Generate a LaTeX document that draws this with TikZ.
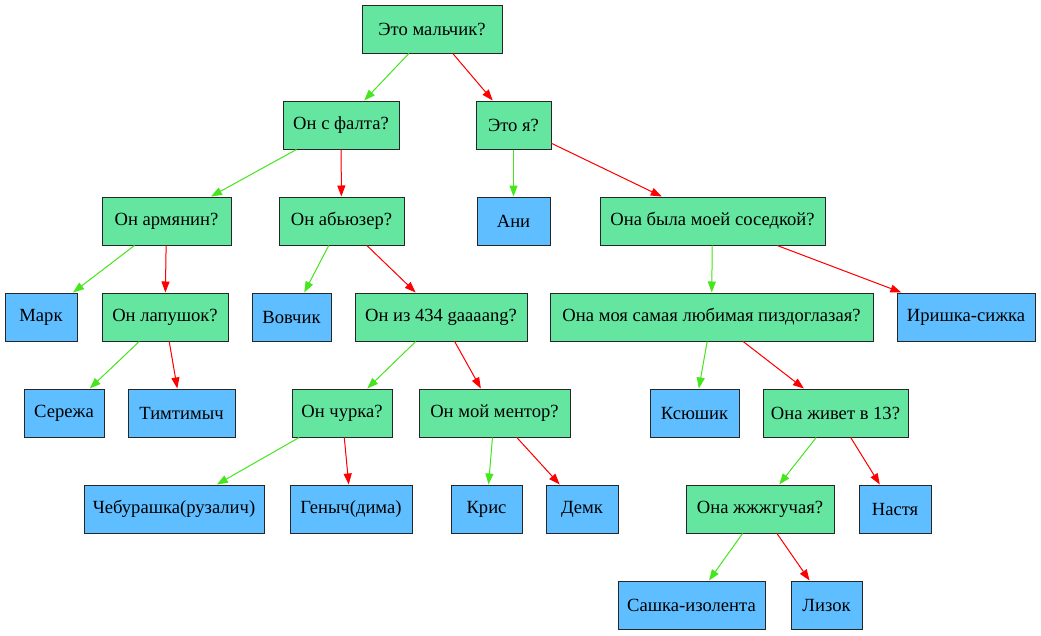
\documentclass[tikz,border=0pt]{standalone}
\usepackage{fontspec}
\setmainfont{Liberation Serif}
\usetikzlibrary{arrows.meta}
\definecolor{qfill}{RGB}{101,230,160}
\definecolor{afill}{RGB}{94,190,255}
\definecolor{yesedge}{RGB}{70,230,30}
\definecolor{noedge}{RGB}{255,0,0}
\tikzset{
  box/.style={draw=black!85, line width=1pt, rectangle, inner sep=0pt,
    minimum height=48pt, font=\fontsize{18.6}{20}\selectfont},
  q/.style={box, fill=qfill},
  ans/.style={box, fill=afill},
  edge/.style={line width=1pt, -{Triangle[length=11pt,width=8pt]}},
  yes/.style={edge, draw=yesedge, fill=yesedge},
  no/.style={edge, draw=noedge, fill=noedge},
}
\begin{document}
\begin{tikzpicture}[x=1pt,y=-1pt]
\useasboundingbox (0,0) rectangle (1041,635);
% level 0
\node[q, minimum width=140] (boy) at (432,29) {Это мальчик?};
% level 1
\node[q, minimum width=116] (falt) at (341,125) {Он с фалта?};
\node[q, minimum width=75] (me) at (513.5,125) {Это я?};
% level 2
\node[q, minimum width=129] (arm) at (166.5,221) {Он армянин?};
\node[q, minimum width=125] (abuse) at (341.5,221) {Он абьюзер?};
\node[ans, minimum width=73] (ani) at (513.5,221) {Ани};
\node[q, minimum width=225] (neigh) at (712.5,221) {Она была моей соседкой?};
% level 3
\node[ans, minimum width=72] (mark) at (41,317) {Марк};
\node[q, minimum width=126] (lap) at (165,317) {Он лапушок?};
\node[ans, minimum width=79] (vov) at (291.5,317) {Вовчик};
\node[q, minimum width=172] (gang) at (441,317) {Он из 434 gaaaang?};
\node[q, minimum width=323] (fav) at (711.5,317) {Она моя самая любимая пиздоглазая?};
\node[ans, minimum width=138] (irish) at (966,317) {Иришка-сижка};
% level 4
\node[ans, minimum width=80] (ser) at (64,413) {Сережа};
\node[ans, minimum width=107] (tim) at (181.5,413) {Тимтимыч};
\node[q, minimum width=100] (chur) at (342,413) {Он чурка?};
\node[q, minimum width=151] (ment) at (494.5,413) {Он мой ментор?};
\node[ans, minimum width=89] (ksu) at (694.5,413) {Ксюшик};
\node[q, minimum width=145] (live) at (835.5,413) {Она живет в 13?};
% level 5
\node[ans, minimum width=180] (cheb) at (174,509) {Чебурашка(рузалич)};
\node[ans, minimum width=122] (gen) at (351,509) {Геныч(дима)};
\node[ans, minimum width=71] (kris) at (486.5,509) {Крис};
\node[ans, minimum width=72] (demk) at (582,509) {Демк};
\node[q, minimum width=148] (hot) at (760,509) {Она жжжгучая?};
\node[ans, minimum width=72] (nast) at (895,509) {Настя};
% level 6
\node[ans, minimum width=147] (sash) at (691.5,605) {Сашка-изолента};
\node[ans, minimum width=71] (liz) at (826.5,605) {Лизок};
% connectors: green for yes, red for no
\draw[yes] (boy) -- (falt);
\draw[no] (boy) -- (me);
\draw[yes] (falt) -- (arm);
\draw[no] (falt) -- (abuse);
\draw[yes] (me) -- (ani);
\draw[no] (me) -- (neigh);
\draw[yes] (arm) -- (mark);
\draw[no] (arm) -- (lap);
\draw[yes] (abuse) -- (vov);
\draw[no] (abuse) -- (gang);
\draw[yes] (neigh) -- (fav);
\draw[no] (neigh) -- (irish);
\draw[yes] (lap) -- (ser);
\draw[no] (lap) -- (tim);
\draw[yes] (gang) -- (chur);
\draw[no] (gang) -- (ment);
\draw[yes] (fav) -- (ksu);
\draw[no] (fav) -- (live);
\draw[yes] (chur) -- (cheb);
\draw[no] (chur) -- (gen);
\draw[yes] (ment) -- (kris);
\draw[no] (ment) -- (demk);
\draw[yes] (live) -- (hot);
\draw[no] (live) -- (nast);
\draw[yes] (hot) -- (sash);
\draw[no] (hot) -- (liz);
\end{tikzpicture}
\end{document}
